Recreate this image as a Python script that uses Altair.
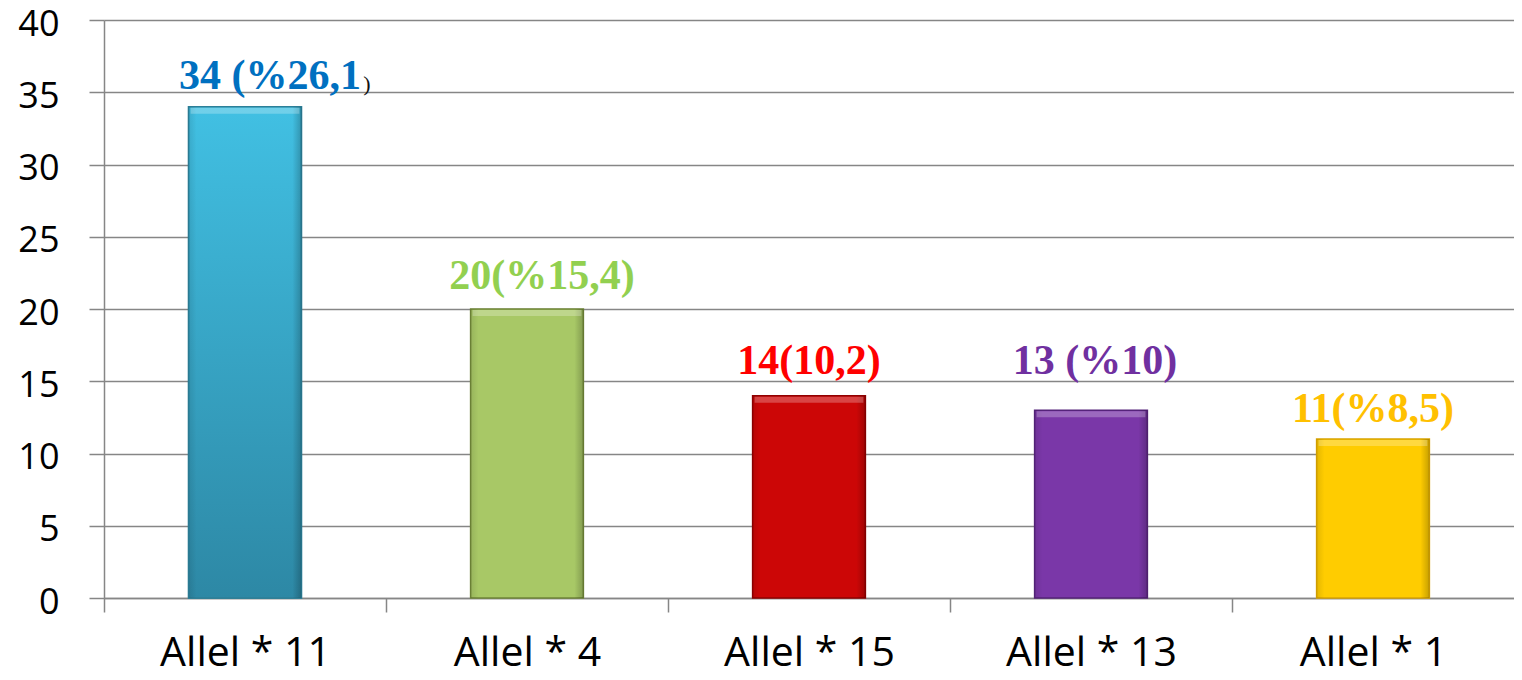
import altair as alt
import pandas as pd

categories = ["Allel * 11", "Allel * 4", "Allel * 15", "Allel * 13", "Allel * 1"]
counts = [34, 20, 14, 13, 11]
labels = ["34 (%26,1", "20(%15,4)", "14(10,2)", "13 (%10)", "11(%8,5)"]
suffixes = [")", "", "", "", ""]
y_ticks = [0, 5, 10, 15, 20, 25, 30, 35, 40]

bar_colors = ["#38A8C8", "#A8C866", "#CC0606", "#7A37A8", "#FFCC00"]
edge_colors = ["#2C7F98", "#6F8537", "#900000", "#55237A", "#D9A400"]
label_colors = ["#0070C0", "#92D050", "#FF0000", "#7030A0", "#FFC000"]

# text offsets (style, px) relative to each bar's centre / top
label_dx = [25, 15, 0, 4, 0]
label_dy = [-18, -20, -22, -36, -17]

df = pd.DataFrame({"cat": categories, "n": counts, "label": labels, "suffix": suffixes})

GRAY = "#868686"
W = 1410
STEP = W / len(categories)
BAR_W = STEP * 0.4

x_enc = alt.X(
    "cat:N",
    sort=categories,
    scale=alt.Scale(paddingInner=0.6, paddingOuter=0.3),
    axis=alt.Axis(
        title=None, labelAngle=0, labelFont="Open Sans", labelFontSize=41,
        labelColor="black", tickSize=14, tickColor=GRAY,
        tickWidth=1.5, domainColor=GRAY, domainWidth=1.5, labelPadding=21,
        tickOffset=-STEP / 2, labelOffset=STEP / 2, grid=False,
    ),
)
y_enc = alt.Y(
    "n:Q",
    scale=alt.Scale(domain=[0, 40], nice=False),
    axis=alt.Axis(
        title=None, values=y_ticks, labelFont="Open Sans", labelFontSize=36,
        labelColor="black", tickSize=15, tickColor=GRAY, tickWidth=1.5,
        labelPadding=30, labelOffset=4, domainColor=GRAY, domainWidth=1.5,
        gridColor=GRAY, gridWidth=1.5,
    ),
)

base = alt.Chart(df)

bars = base.mark_bar(strokeWidth=1.5).encode(
    x=x_enc,
    y=y_enc,
    fill=alt.Fill("cat:N", scale=alt.Scale(domain=categories, range=bar_colors), legend=None),
    stroke=alt.Stroke("cat:N", scale=alt.Scale(domain=categories, range=edge_colors), legend=None),
)

blue = base.transform_filter(alt.datum.cat == categories[0]).mark_bar(
    fill=alt.Gradient(
        gradient="linear",
        stops=[alt.GradientStop(color="#41C0E3", offset=0),
               alt.GradientStop(color="#2D88A5", offset=1)],
        x1=0, x2=0, y1=0, y2=1,
    ),
    stroke=edge_colors[0], strokeWidth=1.5,
).encode(x=x_enc, y=y_enc)

# bevel shading at the left/right edges of every bar
bevel = base.mark_bar(
    fill=alt.Gradient(
        gradient="linear",
        stops=[alt.GradientStop(color="rgba(0,0,0,0.10)", offset=0),
               alt.GradientStop(color="rgba(0,0,0,0)", offset=0.07),
               alt.GradientStop(color="rgba(0,0,0,0)", offset=0.92),
               alt.GradientStop(color="rgba(0,0,0,0.22)", offset=1)],
        x1=0, x2=1, y1=0, y2=0,
    ),
    strokeWidth=0,
).encode(x=x_enc, y=y_enc)

# light strip along the top edge
top_light = base.mark_tick(
    color="white", opacity=0.25, thickness=6, size=BAR_W - 4, yOffset=4,
).encode(x=x_enc, y=y_enc)

layers = [bars, blue, bevel, top_light]
for i, c in enumerate(categories):
    layers.append(
        base.transform_filter(alt.datum.cat == c).mark_text(
            font="Liberation Serif", fontWeight="bold", fontSize=42,
            color=label_colors[i], align="center", baseline="alphabetic",
            dx=label_dx[i], dy=label_dy[i],
        ).encode(x=x_enc, y=y_enc, text="label:N")
    )

suffix_layer = base.transform_filter(alt.datum.suffix != "").mark_text(
    font="Liberation Serif", fontSize=22, color="#111111", align="center",
    baseline="alphabetic", dx=122, dy=-16,
).encode(x=x_enc, y=y_enc, text="suffix:N")
layers.append(suffix_layer)

chart = alt.layer(*layers).properties(
    width=W, height=578,
    padding={"left": 96, "top": 12, "right": 0, "bottom": 78},
    autosize=alt.AutoSizeParams(type="none"),
    background="white",
).configure_view(stroke=None)

chart.save("out.html", embed_options={"renderer": "svg", "actions": False})
